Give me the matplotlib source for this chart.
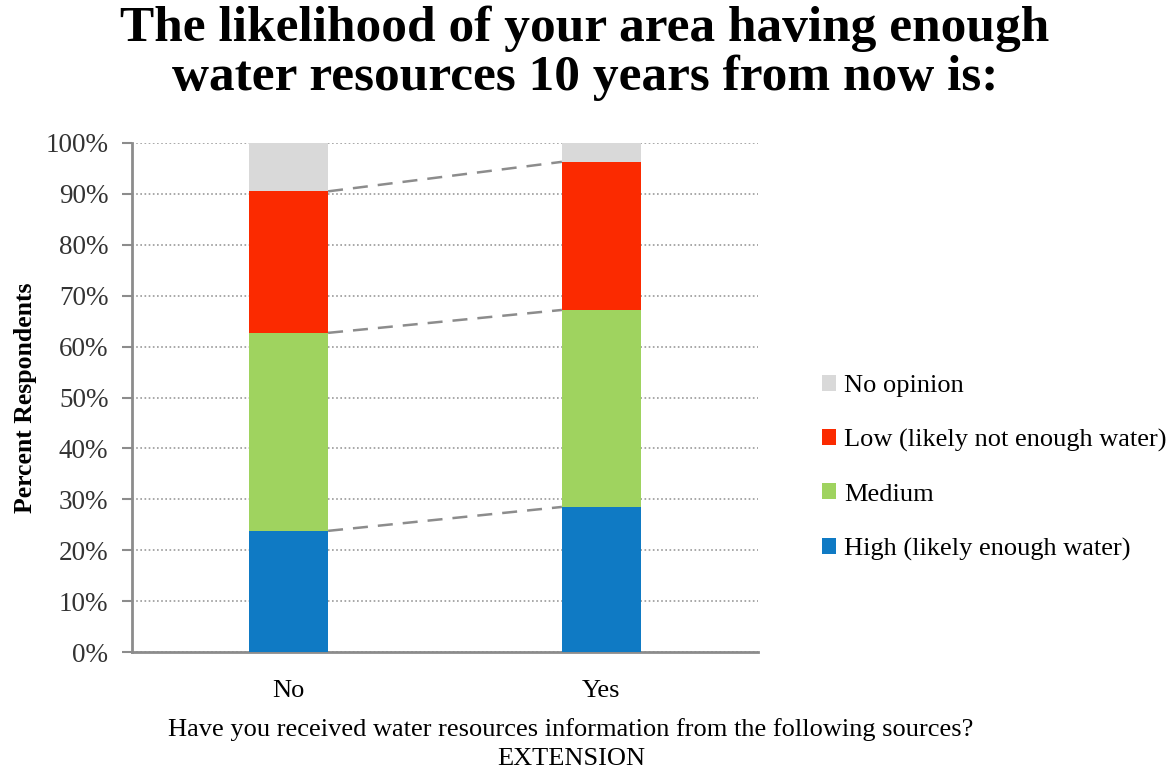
import matplotlib.pyplot as plt
import numpy as np

plt.rcParams['font.family'] = ['Liberation Serif', 'DejaVu Serif']

# data (percent of respondents)
groups = ["No", "Yes"]
series = ["High (likely enough water)", "Medium",
          "Low (likely not enough water)", "No opinion"]
high = [23.8, 28.5]
medium = [38.9, 38.7]
low = [27.8, 29.1]
no_opinion = [9.5, 3.7]
colors = ["#0f7ac4", "#9fd35f", "#fb2a00", "#d9d9d9"]

values = [high, medium, low, no_opinion]

W, H = 1172, 777
fig = plt.figure(figsize=(W / 100, H / 100), dpi=100)
ax = fig.add_axes([132 / W, 1 - 652 / H, (758 - 132) / W, (652 - 143) / H])

x = np.arange(len(groups))
width = 0.253
bottom = np.zeros(len(groups))
handles = []
for vals, name, c in zip(values, series, colors):
    b = ax.bar(x, vals, width, bottom=bottom, color=c, label=name, zorder=3)
    handles.append(b)
    bottom = bottom + np.array(vals)
    # excel style series lines between the bars
    if name != "No opinion":
        ax.plot([x[0] + width / 2, x[1] - width / 2], [bottom[0], bottom[1]],
                color="#8c8c8c", lw=1.8, ls=(0, (6, 4)), zorder=2)

ax.set_xlim(-0.5, 1.5)
ax.set_ylim(0, 100)
ax.set_yticks(np.arange(0, 101, 10))
ax.set_yticklabels([f"{v}%" for v in range(0, 101, 10)], fontsize=19.5, color="#333333")
ax.set_xticks(x)
ax.set_xticklabels(groups, fontsize=19)
ax.tick_params(axis="x", length=0, pad=20)
ax.tick_params(axis="y", length=7, width=1.5, color="#8c8c8c", pad=10)
ax.yaxis.grid(True, ls=(0, (1, 1.5)), color="#9a9a9a", lw=1.2, zorder=0)
for s in ["top", "right"]:
    ax.spines[s].set_visible(False)
for s in ["left", "bottom"]:
    ax.spines[s].set_color("#8c8c8c")
    ax.spines[s].set_linewidth(2)

ax.set_ylabel("Percent Respondents", fontsize=18.5, fontweight="bold", labelpad=6)

fig.text(571 / W, 1 - 718 / H,
         "Have you received water resources information from the following sources?\nEXTENSION",
         fontsize=19, ha="center", va="top", linespacing=1.4)

fig.text(585 / W, 1 - 6 / H,
         "The likelihood of your area having enough\nwater resources 10 years from now is:",
         fontsize=37, fontweight="bold", ha="center", va="top", linespacing=1.05)

leg = fig.legend(handles[::-1], series[::-1], loc="upper left",
                 bbox_to_anchor=(798 / W, 1 - 351 / H), frameon=False,
                 fontsize=19, handlelength=0.55, handleheight=0.55,
                 handletextpad=0.3, labelspacing=1.2)

fig.savefig("out.png", dpi=100)
